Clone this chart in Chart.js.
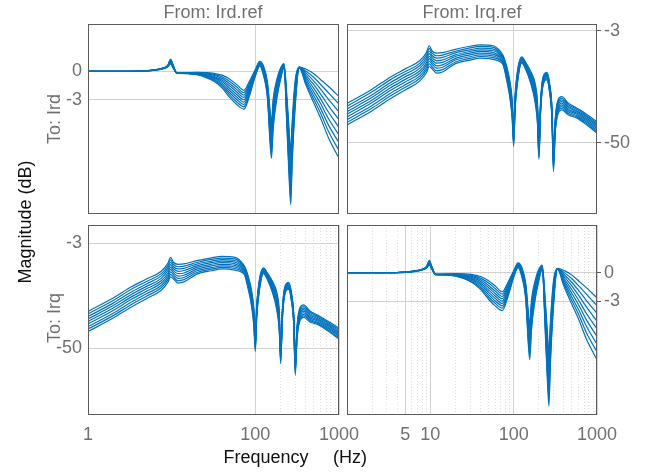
<!DOCTYPE html>
<html><head><meta charset="utf-8">
<script src="https://cdn.jsdelivr.net/npm/chart.js@4.4.1/dist/chart.umd.min.js"></script>
<style>
html,body{margin:0;padding:0;background:#fff;}
body{width:654px;height:472px;position:relative;overflow:hidden;font-family:"Liberation Sans",Arial,Helvetica,sans-serif;}
canvas{position:absolute;}
.t{position:absolute;white-space:nowrap;font-size:18px;line-height:18px;}
.g{color:#707070;}
.k{color:#111;}
.rot{transform:translate(-50%,-50%) rotate(-90deg);}
.ctr{transform:translate(-50%,-50%);}
</style></head><body>
<canvas id="cTL" width="345" height="220" style="left:0;top:0"></canvas>
<canvas id="cTR" width="314" height="220" style="left:340px;top:0"></canvas>
<canvas id="cBL" width="365" height="252" style="left:0;top:220px"></canvas>
<canvas id="cBR" width="314" height="252" style="left:340px;top:220px"></canvas>
<div class="t g ctr" style="left:213px;top:12px">From: Ird.ref</div>
<div class="t g ctr" style="left:472px;top:12px">From: Irq.ref</div>
<div class="t g rot" style="left:54px;top:119px">To: Ird</div>
<div class="t g rot" style="left:54px;top:318px">To: Irq</div>
<div class="t k rot" style="left:25px;top:222px">Magnitude (dB)</div>
<div class="t k ctr" style="left:266px;top:457px">Frequency</div>
<div class="t k ctr" style="left:350px;top:457px">(Hz)</div>
<script>
// Frequencies (Hz) for the "diagonal" responses (Ird->Ird, Irq->Irq)
const fDiag = [1,2,3,4,5,6,7,8,9, 9.7,10.5,11.5,13,16,20,25,32,40,50, 60,73,85,100,113,125,140,150,156,163, 180,200,220,240,255,265,275,300,335,400, 500,600,750,1000];
// Frequencies (Hz) for the "cross" responses (Irq.ref->Ird, Ird.ref->Irq)
const fCross = [1,2,3.3,5,7.5,9,9.7,10.5,11.9,14, 20,30,40,57,68.7,75,82.7,90,96,100, 104,112,125,140,160,180,193,201,210,225, 250,270,288,300,315,340,378,450,570,750, 1000];

// Diagonal magnitude curves (axis units)
const diag1 = [0,0,0,0.02,0.05,0.10,0.18,0.30,0.50, 0.80,0.30,-0.15,-0.15,-0.12,-0.10,-0.12,-0.20,-0.40,-0.85, -1.40,-2.00,-1.05,0.20,1.06,0.60,-1.20,-4.10,-5.50,-3.00, -0.90,0.36,0.82,-3.00,-6.50,-8.50,-5.50,-0.90,0.46,0.25, -0.25,-0.85,-1.60,-2.65];
const diag2 = [0,0,0,0.02,0.05,0.11,0.19,0.31,0.52, 0.86,0.34,-0.16,-0.16,-0.14,-0.13,-0.18,-0.31,-0.57,-1.09, -1.66,-2.25,-1.24,0.11,1.00,0.48,-1.43,-4.54,-5.96,-3.40, -1.16,0.21,0.76,-3.44,-7.16,-9.20,-6.06,-1.25,0.45,0.04, -0.64,-1.36,-2.28,-3.47];
const diag3 = [0,0,0,0.02,0.06,0.11,0.20,0.32,0.54, 0.93,0.38,-0.16,-0.17,-0.15,-0.16,-0.24,-0.41,-0.74,-1.34, -1.93,-2.50,-1.44,0.03,0.93,0.35,-1.65,-4.98,-6.43,-3.80, -1.43,0.05,0.71,-3.88,-7.83,-9.90,-6.63,-1.60,0.45,-0.16, -1.03,-1.86,-2.96,-4.29];
const diag4 = [0,0,0,0.02,0.06,0.12,0.21,0.33,0.56, 0.99,0.41,-0.17,-0.18,-0.17,-0.19,-0.30,-0.52,-0.91,-1.58, -2.19,-2.75,-1.63,-0.06,0.87,0.23,-1.88,-5.41,-6.89,-4.20, -1.69,-0.11,0.64,-4.31,-8.49,-10.60,-7.19,-1.95,0.44,-0.37, -1.41,-2.37,-3.64,-5.11];
const diag5 = [0,0,0,0.03,0.06,0.12,0.21,0.34,0.58, 1.05,0.45,-0.18,-0.19,-0.19,-0.23,-0.36,-0.63,-1.08,-1.83, -2.45,-3.00,-1.83,-0.15,0.81,0.10,-2.10,-5.85,-7.35,-4.60, -1.95,-0.26,0.59,-4.75,-9.15,-11.30,-7.75,-2.30,0.43,-0.58, -1.80,-2.88,-4.33,-5.93];
const diag6 = [0,0,0,0.03,0.07,0.13,0.22,0.35,0.60, 1.11,0.49,-0.18,-0.19,-0.20,-0.26,-0.42,-0.73,-1.24,-2.07, -2.71,-3.25,-2.02,-0.24,0.74,-0.03,-2.33,-6.29,-7.81,-5.00, -2.21,-0.42,0.53,-5.19,-9.81,-12.00,-8.31,-2.65,0.42,-0.78, -2.19,-3.38,-5.01,-6.74];
const diag7 = [0,0,0,0.03,0.07,0.14,0.23,0.36,0.62, 1.18,0.53,-0.19,-0.20,-0.22,-0.29,-0.48,-0.84,-1.41,-2.31, -2.98,-3.50,-2.21,-0.33,0.68,-0.15,-2.55,-6.73,-8.28,-5.40, -2.48,-0.57,0.47,-5.63,-10.48,-12.70,-8.88,-3.00,0.42,-0.99, -2.58,-3.89,-5.69,-7.56];
const diag8 = [0,0,0,0.03,0.08,0.14,0.24,0.37,0.64, 1.24,0.56,-0.19,-0.21,-0.23,-0.32,-0.54,-0.94,-1.58,-2.56, -3.24,-3.75,-2.41,-0.41,0.61,-0.28,-2.78,-7.16,-8.74,-5.80, -2.74,-0.73,0.41,-6.06,-11.14,-13.40,-9.44,-3.35,0.41,-1.19, -2.96,-4.39,-6.37,-8.38];
const diag9 = [0,0,0,0.03,0.08,0.15,0.25,0.38,0.66, 1.30,0.60,-0.20,-0.22,-0.25,-0.35,-0.60,-1.05,-1.75,-2.80, -3.50,-4.00,-2.60,-0.50,0.55,-0.40,-3.00,-7.60,-9.20,-6.20, -3.00,-0.88,0.35,-6.50,-11.80,-14.10,-10.00,-3.70,0.40,-1.40, -3.35,-4.90,-7.05,-9.20];

// Cross magnitude curves (axis units)
const cross1 = [-33.5,-27.5,-22.5,-19.0,-15.5,-12.0,-9.3,-11.5,-12.4,-12.2, -10.8,-9.5,-8.9,-9.3,-11.5,-13.5,-18.0,-24.0,-32.0,-44.0, -30.0,-19.0,-14.0,-16.4,-20.0,-24.8,-33.0,-50.0,-33.0,-22.5, -20.5,-25.0,-35.0,-54.0,-40.0,-32.0,-30.6,-33.3,-35.4,-38.0, -41.1];
const cross2 = [-34.6,-28.6,-23.6,-20.1,-16.6,-13.1,-10.4,-12.4,-13.5,-13.2, -11.6,-10.2,-9.6,-10.0,-12.1,-14.0,-18.8,-24.9,-33.0,-44.9, -30.8,-19.6,-14.3,-16.8,-20.6,-25.8,-34.1,-50.9,-33.6,-22.9, -20.9,-25.5,-35.6,-55.0,-40.8,-32.8,-31.3,-33.9,-35.9,-38.6, -41.7];
const cross3 = [-35.8,-29.8,-24.8,-21.2,-17.6,-14.1,-11.5,-13.4,-14.5,-14.2, -12.3,-11.0,-10.3,-10.7,-12.6,-14.5,-19.5,-25.8,-34.0,-45.9, -31.5,-20.3,-14.7,-17.2,-21.3,-26.8,-35.3,-51.7,-34.3,-23.4, -21.3,-26.0,-36.3,-56.0,-41.5,-33.5,-32.0,-34.5,-36.5,-39.1, -42.3];
const cross4 = [-36.9,-30.9,-25.9,-22.3,-18.7,-15.2,-12.6,-14.3,-15.6,-15.2, -13.1,-11.7,-11.0,-11.4,-13.2,-15.0,-20.3,-26.6,-35.0,-46.8, -32.3,-20.9,-15.0,-17.5,-21.9,-27.8,-36.4,-52.6,-34.9,-23.8, -21.7,-26.5,-36.9,-57.0,-42.3,-34.3,-32.7,-35.1,-37.0,-39.7, -42.9];
const cross5 = [-38.0,-32.0,-27.0,-23.4,-19.8,-16.3,-13.7,-15.3,-16.6,-16.3, -13.8,-12.4,-11.7,-12.2,-13.8,-15.5,-21.0,-27.5,-36.0,-47.8, -33.0,-21.5,-15.3,-17.9,-22.5,-28.8,-37.5,-53.5,-35.5,-24.3, -22.1,-27.0,-37.5,-58.0,-43.0,-35.0,-33.4,-35.8,-37.5,-40.2, -43.5];
const cross6 = [-39.1,-33.1,-28.1,-24.5,-20.8,-17.3,-14.7,-16.2,-17.7,-17.3, -14.6,-13.1,-12.4,-12.9,-14.3,-16.0,-21.8,-28.4,-37.0,-48.7, -33.8,-22.1,-15.6,-18.3,-23.1,-29.7,-38.6,-54.3,-36.1,-24.7, -22.4,-27.5,-38.1,-59.0,-43.8,-35.8,-34.1,-36.4,-38.0,-40.8, -44.1];
const cross7 = [-40.3,-34.3,-29.3,-25.6,-21.9,-18.4,-15.8,-17.1,-18.7,-18.3, -15.3,-13.9,-13.1,-13.6,-14.9,-16.5,-22.5,-29.3,-38.0,-49.6, -34.5,-22.8,-16.0,-18.7,-23.8,-30.7,-39.8,-55.2,-36.8,-25.1, -22.8,-28.0,-38.8,-60.0,-44.5,-36.5,-34.8,-37.0,-38.6,-41.3, -44.7];
const cross8 = [-41.4,-35.4,-30.4,-26.7,-22.9,-19.4,-16.9,-18.1,-19.8,-19.3, -16.1,-14.6,-13.8,-14.3,-15.4,-17.0,-23.3,-30.1,-39.0,-50.6, -35.3,-23.4,-16.3,-19.0,-24.4,-31.7,-40.9,-56.0,-37.4,-25.6, -23.2,-28.5,-39.4,-61.0,-45.3,-37.3,-35.5,-37.6,-39.1,-41.9, -45.3];
const cross9 = [-42.5,-36.5,-31.5,-27.8,-24.0,-20.5,-18.0,-19.0,-20.8,-20.3, -16.8,-15.3,-14.5,-15.0,-16.0,-17.5,-24.0,-31.0,-40.0,-51.5, -36.0,-24.0,-16.6,-19.4,-25.0,-32.7,-42.0,-56.9,-38.0,-26.0, -23.6,-29.0,-40.0,-62.0,-46.0,-38.0,-36.2,-38.2,-39.6,-42.4, -45.9];

const diagCurves = [diag1,diag2,diag3,diag4,diag5,diag6,diag7,diag8,diag9];
const crossCurves = [cross1,cross2,cross3,cross4,cross5,cross6,cross7,cross8,cross9];

// Tick values / labels
const yTicksDiag = [0, -3];
const yTicksCross = [-3, -50];
const xTicksTop = [100];
const xTicksBL = [1, 100, 1000];
const xTicksBR = [5, 10, 100, 1000];
const xMinorBL = [200,300,400,500,600,700,800,900];
const xMinorBR = [2,3,4,6,7,8,9,20,30,40,50,60,70,80,90,200,300,400,500,600,700,800,900];

const BLUE = '#0072BD';
const GRID = '#d2d2d2';
const TICKC = '#707070';
const FONT = {family: "'Liberation Sans', Arial, Helvetica, sans-serif", size: 18};

const frame = {
  id: 'frame',
  afterDraw(chart) {
    const {ctx, chartArea: a} = chart;
    ctx.save();
    ctx.strokeStyle = '#5c5c5c';
    ctx.lineWidth = 1;
    ctx.strokeRect(a.left + 0.5, a.top + 0.5, a.right - a.left - 1, a.bottom - a.top - 1);
    ctx.restore();
  }
};

function fixTicks(vals) { return s => { s.ticks = vals.map(v => ({value: v})); }; }
function fixSize(prop, size) {
  return s => { s[prop] = size; s.paddingTop = 0; s.paddingBottom = 0; s.paddingLeft = 0; s.paddingRight = 0; };
}

function makePanel(id, o) {
  const datasets = o.curves.map(c => ({
    data: c.map((v, i) => ({x: o.freq[i], y: v})),
    borderColor: BLUE, borderWidth: 1.2, pointRadius: 0, fill: false,
    cubicInterpolationMode: 'monotone'
  }));
  const scales = {
    x: {
      type: 'logarithmic', position: 'bottom', min: 1, max: 1000,
      afterBuildTicks: fixTicks(o.xTicks),
      ticks: {display: o.xLabels, font: FONT, color: TICKC, padding: 9, maxRotation: 0, autoSkip: false,
              callback: v => String(v)},
      grid: {color: GRID, lineWidth: 1, drawTicks: false},
      border: {display: false},
      afterFit: fixSize('height', o.xH)
    },
    y: {
      type: 'linear', position: o.yPos, min: o.yMin, max: o.yMax,
      afterBuildTicks: fixTicks(o.yTicks),
      ticks: {font: FONT, color: TICKC, padding: o.yPos === 'left' ? 6 : 3, callback: v => String(v)},
      grid: {color: GRID, lineWidth: 1, drawTicks: o.yPos === 'right', tickLength: 4, tickColor: '#5c5c5c'},
      border: {display: false},
      afterFit: fixSize('width', o.yW)
    }
  };
  if (o.minor) {
    scales.xm = {
      type: 'logarithmic', position: 'top', min: 1, max: 1000,
      afterBuildTicks: fixTicks(o.minor),
      ticks: {display: false},
      grid: {color: '#dedede', lineWidth: 1, drawTicks: false},
      border: {display: false, dash: [1, 2]},
      afterFit: fixSize('height', 0)
    };
  }
  new Chart(document.getElementById(id), {
    type: 'line',
    data: {datasets},
    options: {
      responsive: false, animation: false, devicePixelRatio: 1,
      layout: {padding: o.pad},
      plugins: {legend: {display: false}, tooltip: {enabled: false}, title: {display: false}},
      scales
    },
    plugins: [frame]
  });
}

makePanel('cTL', {curves: diagCurves, freq: fDiag, xTicks: xTicksTop, xLabels: false, xH: 6,
  yPos: 'left', yW: 88, yMin: -15.1, yMax: 5.02, yTicks: yTicksDiag,
  pad: {left: 0, top: 24, right: 6, bottom: 0}});
makePanel('cTR', {curves: crossCurves, freq: fCross, xTicks: xTicksTop, xLabels: false, xH: 6,
  yPos: 'right', yW: 57, yMin: -79.8, yMax: -0.19, yTicks: yTicksCross,
  pad: {left: 7, top: 24, right: 0, bottom: 0}});
makePanel('cBL', {curves: crossCurves, freq: fCross, xTicks: xTicksBL, xLabels: true, xH: 57,
  yPos: 'left', yW: 88, yMin: -79.9, yMax: 5.19, yTicks: yTicksCross, minor: xMinorBL,
  pad: {left: 0, top: 5, right: 26, bottom: 0}});
makePanel('cBR', {curves: diagCurves, freq: fDiag, xTicks: xTicksBR, xLabels: true, xH: 57,
  yPos: 'right', yW: 57, yMin: -15.04, yMax: 5.05, yTicks: yTicksDiag, minor: xMinorBR,
  pad: {left: 7, top: 5, right: 0, bottom: 0}});
</script>
</body></html>
